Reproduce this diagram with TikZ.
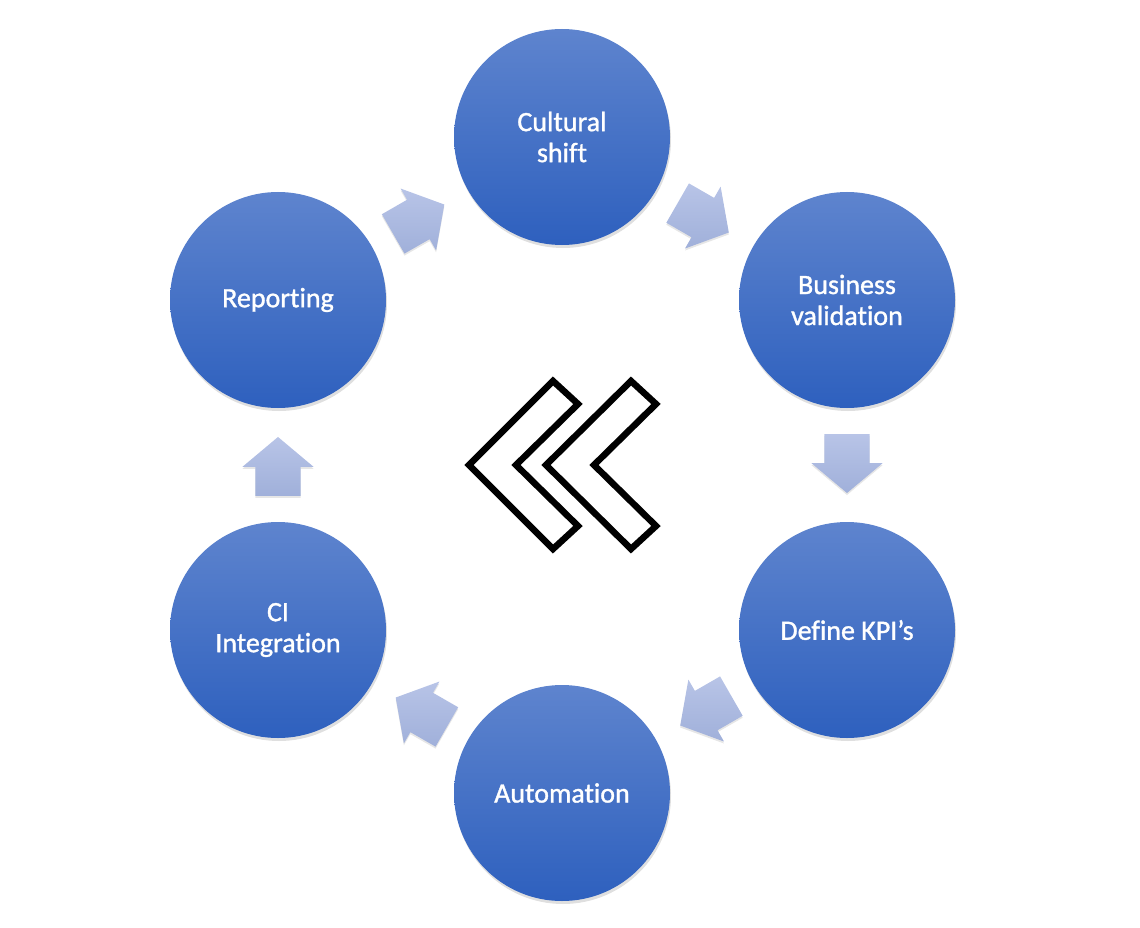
\documentclass[tikz,border=0pt]{standalone}
\usepackage{fontspec}
\setmainfont[Ligatures=NoCommon,FakeBold=1.2]{Carlito}
\usetikzlibrary{shapes.arrows,shadows,calc}
\definecolor{circtop}{RGB}{94,132,206}
\definecolor{circbot}{RGB}{46,96,190}
\definecolor{arrtop}{RGB}{184,196,231}
\definecolor{arrbot}{RGB}{160,176,218}
\begin{document}
\begin{tikzpicture}[x=1pt,y=1pt,
  stage/.style={circle, minimum size=216pt, inner sep=0pt, top color=circtop, bottom color=circbot,
    draw=none, text=white, align=center, font=\fontsize{28}{31}\selectfont,
    drop shadow={opacity=0.25, shadow xshift=1pt, shadow yshift=-3pt}},
  flow/.style={single arrow, minimum height=59pt, single arrow head extend=13pt,
    single arrow tip angle=100, inner xsep=0pt, inner ysep=22.5pt, draw=none, top color=arrtop, bottom color=arrbot,
    rotate=#1,
    drop shadow={opacity=0.2, shadow xshift=0pt, shadow yshift=-2pt}},
  chev/.style={draw=black, line width=6.5pt, line join=miter, miter limit=10}]
\useasboundingbox (0,0) rectangle (1140,-928);
\node[stage] (cult) at (562,-137) {Cultural\\shift};
\node[stage] (bus) at (847,-300) {Business\\validation};
\node[stage] (kpi) at (847,-630) {Define KPI’s};
\node[stage] (auto) at (562,-793) {Automation};
\node[stage] (ci) at (278,-630) {CI\\Integration};
\node[stage] (rep) at (278,-300) {Reporting};
\node[flow=29.9] (a1) at ($($(rep.center)!0.5!(cult.center)$)!11pt!(rep.center)$) {};
\node[flow=-29.9] (a2) at ($($(cult.center)!0.5!(bus.center)$)!11pt!(cult.center)$) {};
\node[flow=-90] (a3) at ($($(bus.center)!0.5!(kpi.center)$)!11pt!(bus.center)$) {};
\node[flow=209.9] (a4) at ($($(kpi.center)!0.5!(auto.center)$)!11pt!(kpi.center)$) {};
\node[flow=150.1] (a5) at ($($(auto.center)!0.5!(ci.center)$)!11pt!(auto.center)$) {};
\node[flow=90] (a6) at ($($(ci.center)!0.5!(rep.center)$)!11pt!(ci.center)$) {};
\draw[chev] (469,-465) -- (553,-381) -- (578,-404) -- (516,-465) -- (578,-526) -- (553,-549) -- cycle;
\draw[chev] (546,-465) -- (631,-381) -- (656,-404) -- (594,-465) -- (656,-526) -- (631,-549) -- cycle;
\end{tikzpicture}
\end{document}
